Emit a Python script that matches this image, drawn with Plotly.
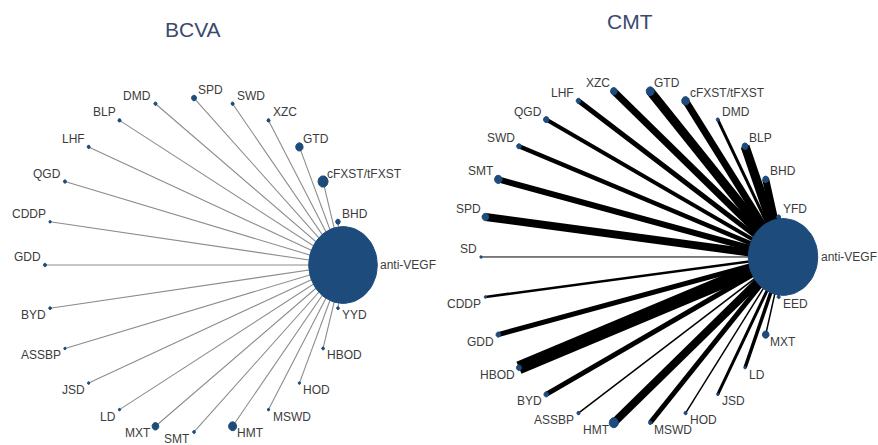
import numpy as np
import plotly.graph_objects as go

# ---- BCVA network (hub first, others counter-clockwise around the circle) ----
bcva_nodes = ["anti-VEGF", "BHD", "cFXST/tFXST", "GTD", "XZC", "SWD", "SPD", "DMD",
              "BLP", "LHF", "QGD", "CDDP", "GDD", "BYD", "ASSBP", "JSD", "LD", "MXT",
              "SMT", "HMT", "MSWD", "HOD", "HBOD", "YYD"]
bcva_node_weight = [2400, 11, 52, 28, 5, 5, 13, 5,
                    5, 5, 5, 3, 5, 4, 3, 3, 3, 23,
                    4, 33, 3, 3, 4, 4]
# every comparison in BCVA links a treatment with anti-VEGF
bcva_edge_weight = [1, 1, 1, 1, 1, 1, 1, 1, 1, 1, 1, 1,
                    1, 1, 1, 1, 1, 1, 1, 1, 1, 1, 1]

# ---- CMT network ----
cmt_nodes = ["anti-VEGF", "YFD", "BHD", "BLP", "DMD", "cFXST/tFXST", "GTD", "XZC",
             "LHF", "QGD", "SWD", "SMT", "SPD", "SD", "CDDP", "GDD", "HBOD", "BYD",
             "ASSBP", "HMT", "MSWD", "HOD", "JSD", "LD", "MXT", "EED"]
cmt_node_weight = [2400, 8, 18, 18, 5, 30, 32, 22,
                   11, 15, 11, 28, 22, 3, 3, 11, 13, 11,
                   5, 41, 6, 5, 3, 3, 22, 5]
cmt_edge_weight = [4, 7, 9, 3, 7, 9, 7,
                   5, 4, 4.5, 6, 8, 1, 2.5, 5, 13, 5,
                   1.5, 8, 5, 1.5, 3, 3.5, 1.5, 2]

NODE_COLOR = "#1d4b7c"
LABEL_COLOR = "#3c3c3c"
FONT = "Liberation Sans, Arial, sans-serif"
HUB_RADIUS = 0.23          # radius of the largest node, in layout units
HUB_WEIGHT = 2400

fig = go.Figure()
annotations = []


def node_radius(w):
    return HUB_RADIUS * np.sqrt(w / HUB_WEIGHT)


def draw_network(names, weights, edge_w, edge_color, width_scale, xa, ya):
    n = len(names)
    ang = 2 * np.pi * np.arange(n) / n
    xs, ys = np.cos(ang), np.sin(ang)

    # edges: every treatment connects to the hub (index 0)
    for i in range(1, n):
        fig.add_trace(go.Scatter(
            x=[xs[i], xs[0]], y=[ys[i], ys[0]], mode="lines",
            line=dict(color=edge_color, width=edge_w[i - 1] * width_scale),
            hoverinfo="skip", showlegend=False, xaxis=xa, yaxis=ya))

    # nodes as filled circles in layout units
    t = np.linspace(0, 2 * np.pi, 60)
    for i in range(n):
        r = node_radius(weights[i])
        fig.add_trace(go.Scatter(
            x=xs[i] + r * np.cos(t), y=ys[i] + r * np.sin(t),
            mode="lines", fill="toself", fillcolor=NODE_COLOR,
            line=dict(color=NODE_COLOR, width=1),
            hoverinfo="skip", showlegend=False, xaxis=xa, yaxis=ya))

    # labels
    for i in range(n):
        a = ang[i]
        c, s = np.cos(a), np.sin(a)
        if i == 0:
            annotations.append(dict(
                x=xs[i] + node_radius(weights[i]), y=ys[i], xref=xa, yref=ya,
                text=names[i], showarrow=False, xanchor="left", yanchor="middle",
                xshift=2, borderpad=0,
                font=dict(family=FONT, size=12, color=LABEL_COLOR)))
            continue
        right = c > -1e-9 if s >= 0 else c > 1e-9
        above = s > 1e-9 or abs(c + 1) < 1e-9
        annotations.append(dict(
            x=xs[i], y=ys[i], xref=xa, yref=ya, text=names[i], showarrow=False,
            xanchor="left" if right else "right",
            yanchor="bottom" if above else "top",
            xshift=3 if right else -3, yshift=0 if above else 1, borderpad=0,
            font=dict(family=FONT, size=12, color=LABEL_COLOR)))


draw_network(bcva_nodes, bcva_node_weight, bcva_edge_weight, "#8c8c8c", 1.1, "x", "y")
draw_network(cmt_nodes, cmt_node_weight, cmt_edge_weight, "#000000", 1.0, "x2", "y2")

# panel titles
annotations.append(dict(x=0.2198, y=0.934, xref="paper", yref="paper", text="BCVA",
                        showarrow=False, xanchor="center", yanchor="middle",
                        font=dict(family=FONT, size=21, color="#3a4a6e")))
annotations.append(dict(x=0.7175, y=0.952, xref="paper", yref="paper", text="CMT",
                        showarrow=False, xanchor="center", yanchor="middle",
                        font=dict(family=FONT, size=21, color="#3a4a6e")))

hidden = dict(visible=False, showgrid=False, zeroline=False, fixedrange=True)
fig.update_layout(
    width=878, height=445,
    margin=dict(l=0, r=0, t=0, b=0),
    paper_bgcolor="white", plot_bgcolor="white",
    showlegend=False,
    xaxis=dict(domain=[0, 0.5], range=[-1.302, 1.644], **hidden),
    yaxis=dict(domain=[0, 1], range=[-1.078, 1.587], **hidden),
    xaxis2=dict(domain=[0.5, 1], range=[-1.278, 1.629], anchor="y2", **hidden),
    yaxis2=dict(domain=[0, 1], range=[-1.126, 1.539], anchor="x2", **hidden),
    annotations=annotations,
)

fig.write_html("out.html")
